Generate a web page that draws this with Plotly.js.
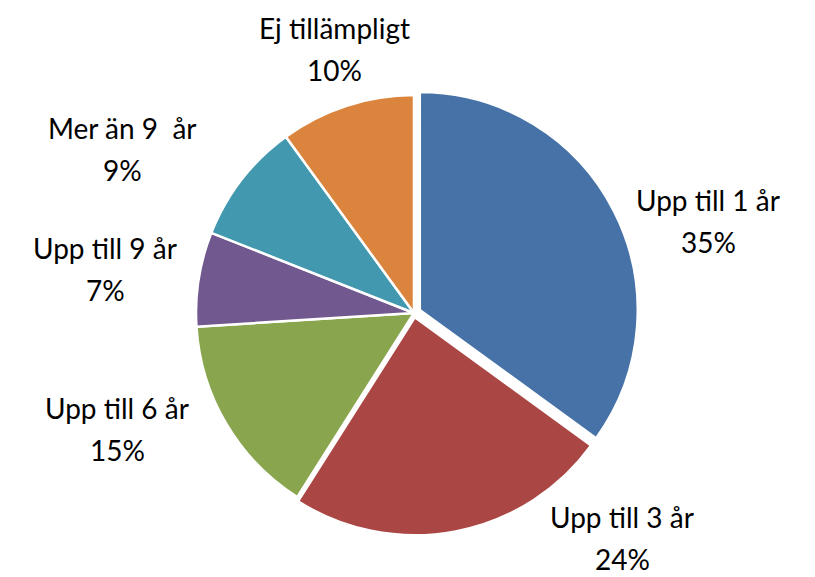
<!DOCTYPE html>
<html><head><meta charset="utf-8">
<script src="https://cdn.plot.ly/plotly-3.0.1.min.js"></script>
<style>html,body{margin:0;padding:0;background:#fff;}#chart{width:815px;height:577px;}</style>
</head><body><div id="chart"></div>
<script>
const categories = ["Upp till 1 år", "Upp till 3 år", "Upp till 6 år", "Upp till 9 år", "Mer än 9  år", "Ej tillämpligt"];
const values = [35, 24, 15, 7, 9, 10];
const colors = ["#4672A8", "#AA4644", "#89A54E", "#71588F", "#4198AF", "#DB843D"];
const pulls = [0.03, 0.02, 0, 0, 0, 0];

// label anchor centres in pixels (layout only)
const labelPx = [[708, 200], [622, 517], [117, 408], [105, 248], [122, 128], [334, 28]];
const W = 815, H = 577, LINE = 42;
const FONT = {family: "Lato, 'Open Sans', sans-serif", size: 28, color: "#000"};

const total = values.reduce((a, b) => a + b, 0);
const annotations = [];
categories.forEach((c, i) => {
  const [px, py] = labelPx[i];
  annotations.push({xref: "paper", yref: "paper", x: px / W, y: 1 - py / H, text: c,
    showarrow: false, xanchor: "center", yanchor: "middle", font: FONT});
  annotations.push({xref: "paper", yref: "paper", x: px / W, y: 1 - (py + LINE) / H,
    text: Math.round(values[i] / total * 100) + "%",
    showarrow: false, xanchor: "center", yanchor: "middle", font: FONT});
});

Plotly.newPlot("chart", [{
  type: "pie",
  labels: categories,
  values: values,
  sort: false,
  direction: "clockwise",
  rotation: 0,
  pull: pulls,
  marker: {colors: colors, line: {color: "#ffffff", width: 2.5}},
  textinfo: "none",
  domain: {x: [0.2325, 0.7834], y: [0.068, 0.847]},
  showlegend: false,
  hoverinfo: "none"
}], {
  width: W, height: H,
  margin: {l: 0, r: 0, t: 0, b: 0},
  paper_bgcolor: "#fff",
  showlegend: false,
  annotations: annotations
}, {displayModeBar: false, staticPlot: true});
</script></body></html>
